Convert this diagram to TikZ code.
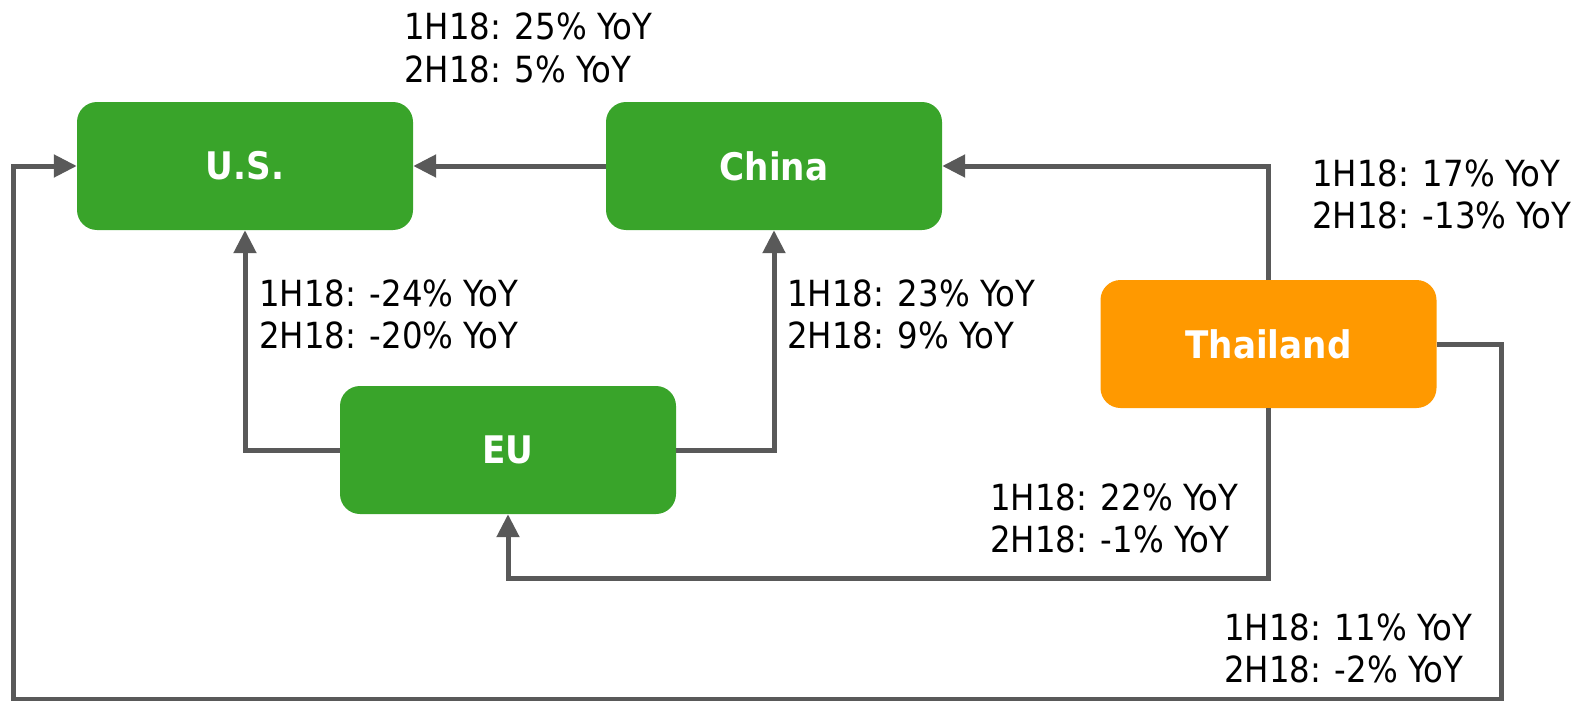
\documentclass[tikz,border=0pt]{standalone}
\usepackage{fontspec}
\setmainfont{DejaVu Sans Condensed}
\usetikzlibrary{arrows.meta}
\definecolor{boxgreen}{RGB}{57,164,42}
\definecolor{boxorange}{RGB}{255,153,0}
\definecolor{linegray}{RGB}{89,89,89}
\tikzset{
  region/.style={rounded corners=20pt, minimum width=336pt, minimum height=128pt,
    inner sep=0pt, text=white, font=\fontsize{38}{40}\selectfont\bfseries},
  greenbox/.style={region, fill=boxgreen},
  orangebox/.style={region, fill=boxorange},
  flow/.style={draw=linegray, line width=5pt,
    -{Triangle[length=23pt,width=22pt]}},
  lbl/.style={anchor=base west, inner sep=0pt,
    font=\fontsize{36}{43}\selectfont}
}
\begin{document}
\begin{tikzpicture}[x=1pt,y=-1pt]
\useasboundingbox (0,0) rectangle (1575,701);
\node[greenbox] (us) at (245,166) {U.S.};
\node[greenbox] (china) at (774,166) {China};
\node[greenbox] (eu) at (508,450) {EU};
\node[orangebox] (th) at (1268.5,344) {Thailand};
\coordinate (brc) at (1501,699);
\coordinate (blc) at (13,699);
\coordinate (eubend) at (1268.5,578);
% connectors
\draw[flow] (china.west) -- (us.east);
\draw[flow] (eu.west) -| (us.south);
\draw[flow] (eu.east) -| (china.south);
\draw[flow] (th.north) |- (china.east);
\draw[flow] (th.south) -- (eubend) -| (eu.south);
\draw[flow] (th.east) -| (brc) -- (blc) |- (us.west);
% labels
\node[lbl] (l1a) at (404,40) {1H18: 25\% YoY};
\node[lbl] (l1b) at (404,83) {2H18: 5\% YoY};
\node[lbl] (l2a) at (1312,186) {1H18: 17\% YoY};
\node[lbl] (l2b) at (1312,228) {2H18: -13\% YoY};
\node[lbl] (l3a) at (259,306) {1H18: -24\% YoY};
\node[lbl] (l3b) at (259,348) {2H18: -20\% YoY};
\node[lbl] (l4a) at (787,306) {1H18: 23\% YoY};
\node[lbl] (l4b) at (787,348) {2H18: 9\% YoY};
\node[lbl] (l5a) at (990,510) {1H18: 22\% YoY};
\node[lbl] (l5b) at (990,552) {2H18: -1\% YoY};
\node[lbl] (l6a) at (1224,640) {1H18: 11\% YoY};
\node[lbl] (l6b) at (1224,682) {2H18: -2\% YoY};
\end{tikzpicture}
\end{document}
